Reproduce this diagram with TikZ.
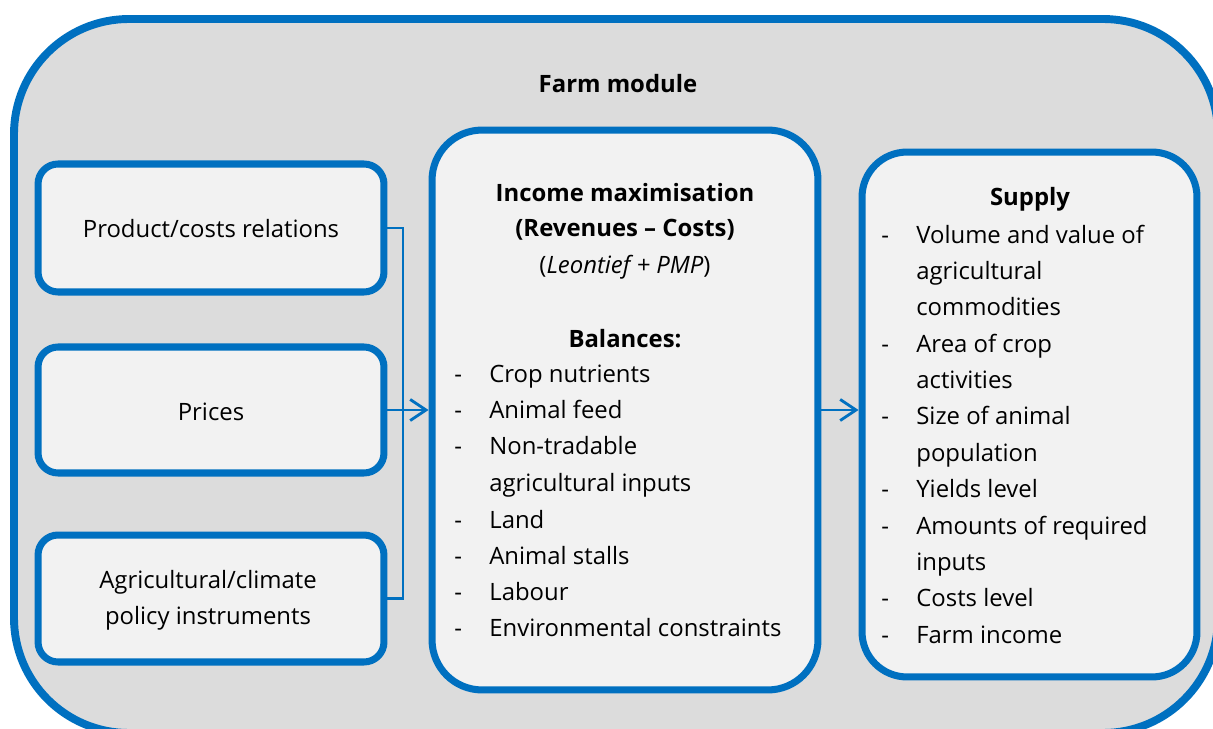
\documentclass[tikz,border=0pt]{standalone}
\usepackage{fontspec}
\setmainfont{Open Sans}
\usetikzlibrary{arrows.meta}
\definecolor{bblue}{HTML}{0070C0}
\definecolor{outerfill}{HTML}{DCDCDC}
\definecolor{innerfill}{HTML}{F2F2F2}
\begin{document}
\begin{tikzpicture}[x=0.02cm,y=-0.02cm,
  txt/.style={font=\fontsize{13.6}{20.5}\selectfont, inner sep=0pt},
  btxt/.style={font=\fontsize{13.6}{20.5}\selectfont\bfseries, inner sep=0pt},
  ltxt/.style={txt, anchor=mid west, yshift=-0.08cm},
  boxstyle/.style={draw=bblue, fill=innerfill, line width=4pt},
  conn/.style={draw=bblue, line width=1.6pt},
  arr/.style={conn, -{Straight Barb[length=9pt,width=12pt]}}]
\useasboundingbox (0,0) rectangle (1213,729);
\clip (0,0) rectangle (1213,729);
% outer module
\draw[draw=bblue, fill=outerfill, line width=4.5pt, rounded corners=2.3cm] (14,19) rectangle (1218,733);
\node[btxt] (title) at (618,84) {Farm module};
% left boxes
\node[boxstyle, rounded corners=0.4cm, minimum width=6.92cm, minimum height=2.56cm] (b1) at (211,228) {};
\node[boxstyle, rounded corners=0.4cm, minimum width=6.92cm, minimum height=2.52cm] (b2) at (211,410) {};
\node[boxstyle, rounded corners=0.4cm, minimum width=6.92cm, minimum height=2.54cm] (b3) at (211,598.5) {};
\node[txt] (t1) at (211,229) {Product/costs relations};
\node[txt] (t2) at (211,412) {Prices};
\node[txt, align=center] (t3) at (208,600) {Agricultural/climate\\policy instruments};
% middle box
\node[boxstyle, rounded corners=1.0cm, minimum width=7.72cm, minimum height=11.2cm] (mid) at (625,410) {};
\node[btxt] (m1) at (625,193) {Income maximisation};
\node[btxt] (m2) at (625,230) {(Revenues – Costs)};
\node[txt] (m3) at (625,267) {(\textit{Leontief + PMP})};
\node[btxt] (m4) at (625,339) {Balances:};
\foreach \y/\t [count=\i] in {374/Crop nutrients, 410/Animal feed, 446/Non-tradable, 483/agricultural inputs, 520/Land, 556/Animal stalls, 592/Labour, 628/Environmental constraints}{
  \node[ltxt] (ml\i) at (489,\y) {\t};
}
\foreach \y [count=\i] in {374,410,446,520,556,592,628}{
  \node[ltxt] (md\i) at (454,\y) {-};
}
% right box
\node[boxstyle, rounded corners=0.9cm, minimum width=6.7cm, minimum height=10.5cm] (sup) at (1029.5,414.5) {};
\node[btxt] (s0) at (1030,199) {Supply};
\foreach \y/\t [count=\i] in {235/Volume and value of, 271/agricultural, 307/commodities, 344/Area of crop, 380/activities, 416/Size of animal, 453/population, 489/Yields level, 526/Amounts of required, 562/inputs, 598/Costs level, 635/Farm income}{
  \node[ltxt] (sl\i) at (916,\y) {\t};
}
\foreach \y [count=\i] in {235,344,416,489,526,598,635}{
  \node[ltxt] (sd\i) at (881,\y) {-};
}
% connectors
\coordinate (j) at (403,410);
\draw[conn] (b1.east) -| (j);
\draw[conn] (b3.east) -| (j);
\draw[arr] (b2.east) -- (mid.west);
\draw[arr] (mid.east) -- (sup.west |- mid.east);
\end{tikzpicture}
\end{document}
